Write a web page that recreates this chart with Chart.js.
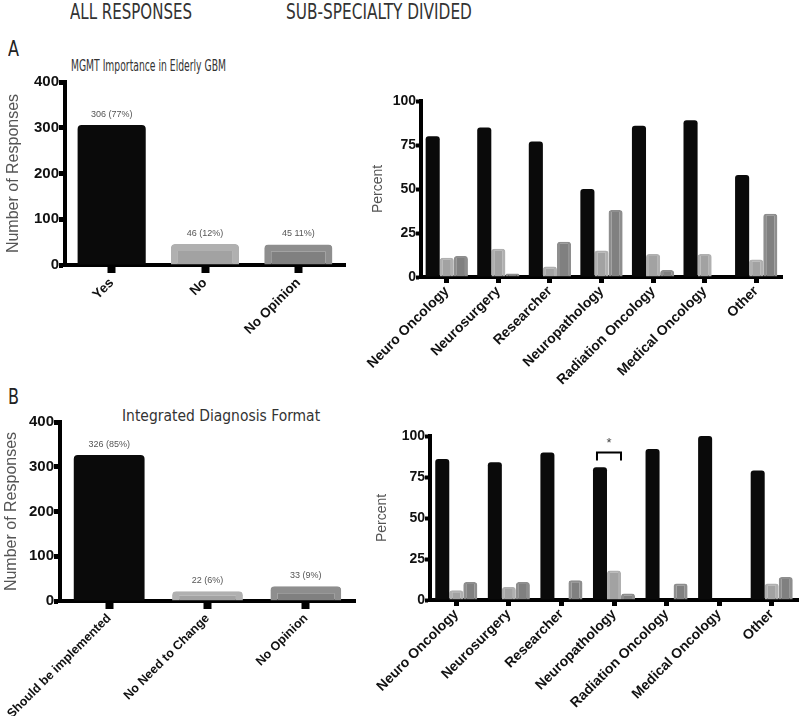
<!DOCTYPE html>
<html lang="en">
<head>
    <meta charset="UTF-8">
    <title>MGMT / Integrated Diagnosis survey</title>
    <script src="https://cdn.jsdelivr.net/npm/chart.js"></script>
    <style>
        body { margin: 0; background: #fff; }
        .page { position: relative; width: 800px; height: 716px; overflow: hidden; }
        .page canvas { position: absolute; }
        .txt { position: absolute; white-space: nowrap; color: #333; line-height: 1;
               font-family: "DejaVu Sans Condensed", "DejaVu Sans", sans-serif;
               transform-origin: 0 0; }
        .head { font-size: 21px; top: 2px; }
        .panel { font-size: 21px; left: 8px; color: #222; }
    </style>
</head>
<body>
<div class="page">
    <div class="txt head" data-w="122" style="left:70px;">ALL RESPONSES</div>
    <div class="txt head" data-w="186" style="left:286px;">SUB-SPECIALTY DIVIDED</div>
    <div class="txt panel" data-w="11" style="top:39px;">A</div>
    <div class="txt panel" data-w="11" style="top:387px;">B</div>
    <div class="txt" data-w="155" style="left:71px; top:59px; font-size:15px;">MGMT Importance in Elderly GBM</div>
    <div class="txt" data-w="198" style="left:122px; top:409px; font-size:15px;">Integrated Diagnosis Format</div>

    <canvas id="allA" width="360" height="320" style="left:0; top:60px;"></canvas>
    <canvas id="subA" width="440" height="310" style="left:360px; top:80px;"></canvas>
    <canvas id="allB" width="370" height="336" style="left:0; top:380px;"></canvas>
    <canvas id="subB" width="430" height="296" style="left:370px; top:420px;"></canvas>
</div>

<script>
    // ---- data ----
    const answersA = ['Yes', 'No', 'No Opinion'];
    const countsA = [306, 46, 45];
    const countLabelsA = ['306 (77%)', '46 (12%)', '45 11%)'];

    const answersB = ['Should be implemented', 'No Need to Change', 'No Opinion'];
    const countsB = [326, 22, 33];
    const countLabelsB = ['326 (85%)', '22 (6%)', '33 (9%)'];

    const specialties = ['Neuro Oncology', 'Neurosurgery', 'Researcher', 'Neuropathology',
                         'Radiation Oncology', 'Medical Oncology', 'Other'];

    // percent per sub-specialty, panel A
    const pctYesA       = [80, 85, 77, 50, 86, 89, 58];
    const pctNoA        = [11, 16, 6, 15, 13, 13, 10];
    const pctNoOpinionA = [12, 2, 20, 38, 4, 0, 36];

    // percent per sub-specialty, panel B
    const pctImplB      = [86, 84, 90, 81, 92, 100, 79];
    const pctNoChangeB  = [6, 8, 0, 18, 0, 0, 10];
    const pctNoOpinionB = [11, 11, 12, 4, 10, 0, 14];

    const countTicks = [0, 100, 200, 300, 400];
    const pctTicks = [0, 25, 50, 75, 100];

    // squeeze the condensed headings to the width they have in the figure
    document.querySelectorAll('.txt[data-w]').forEach(el => {
        const w = el.getBoundingClientRect().width;
        el.style.transform = 'scaleX(' + (Number(el.dataset.w) / w).toFixed(3) + ')';
    });

    // ---- styles ----
    const BLACK = '#0a0a0a';
    const LIGHT_OUT = '#b0b0b0', LIGHT_IN = '#a2a2a2';
    const DARK_OUT = '#8e8e8e', DARK_IN = '#808080';
    const AXIS_FONT = "'Liberation Sans', Arial, sans-serif";

    Chart.defaults.font.family = AXIS_FONT;
    Chart.defaults.animation = false;

    // small text above the bars of the left charts
    const barTextPlugin = {
        id: 'barText',
        afterDatasetsDraw(chart, args, opts) {
            if (!opts.labels) return;
            const ctx = chart.ctx;
            const meta = chart.getDatasetMeta(0);
            ctx.save();
            ctx.font = '9px ' + AXIS_FONT;
            ctx.fillStyle = '#555';
            ctx.textAlign = 'center';
            ctx.textBaseline = 'bottom';
            meta.data.forEach((bar, i) => {
                ctx.fillText(opts.labels[i], bar.x, bar.y - 6);
            });
            ctx.restore();
        }
    };

    // significance bracket over one group
    const bracketPlugin = {
        id: 'bracket',
        afterDatasetsDraw(chart, args, opts) {
            if (opts.index == null) return;
            const ctx = chart.ctx;
            const a = chart.getDatasetMeta(0).data[opts.index];
            const b = chart.getDatasetMeta(1).data[opts.index];
            const y = chart.scales.y;
            const top = y.getPixelForValue(opts.value);
            const foot = y.getPixelForValue(opts.value - 5);
            const x1 = a.x - 3, x2 = b.x + 7;
            ctx.save();
            ctx.strokeStyle = '#000';
            ctx.lineWidth = 2;
            ctx.beginPath();
            ctx.moveTo(x1, foot);
            ctx.lineTo(x1, top);
            ctx.lineTo(x2, top);
            ctx.lineTo(x2, foot);
            ctx.stroke();
            ctx.fillStyle = '#444';
            ctx.font = '13px ' + AXIS_FONT;
            ctx.textAlign = 'center';
            ctx.textBaseline = 'bottom';
            ctx.fillText('*', (x1 + x2) / 2, top - 2);
            ctx.restore();
        }
    };

    function fixedTicks(values) {
        return function (scale) {
            scale.ticks = values.map(v => ({ value: v }));
        };
    }

    // fixed axis box, and no extra room asked for the slanted labels
    function fitX(h) {
        return function (s) {
            s.height = h;
            s.paddingLeft = 0;
            s.paddingRight = 0;
        };
    }

    function allChart(id, labels, counts, texts, o) {
        new Chart(document.getElementById(id), {
            type: 'bar',
            data: {
                labels: labels,
                datasets: [{
                    data: counts,
                    backgroundColor: [BLACK, LIGHT_IN, DARK_IN],
                    borderColor: [BLACK, LIGHT_OUT, DARK_OUT],
                    borderWidth: ctx => ctx.dataIndex === 0 ? 0 : { top: 7, left: 7, right: 7, bottom: 0 },
                    borderRadius: 4,
                    categoryPercentage: 1,
                    barPercentage: o.barPct
                }]
            },
            options: {
                responsive: false,
                maintainAspectRatio: false,
                layout: { padding: o.pad },
                plugins: {
                    legend: { display: false },
                    tooltip: { enabled: false },
                    barText: { labels: texts }
                },
                scales: {
                    x: {
                        afterFit: fitX(o.xHeight),
                        border: { display: true, width: 4, color: '#000' },
                        grid: { drawOnChartArea: false, offset: false, tickLength: 8, tickWidth: 8, tickColor: '#000' },
                        ticks: { minRotation: 45, maxRotation: 45, color: '#111', padding: 2,
                                 font: { size: o.labelSize, weight: 'bold' } }
                    },
                    y: {
                        min: 0, max: 400,
                        afterBuildTicks: fixedTicks(countTicks),
                        afterFit: s => { s.width = o.yWidth; },
                        border: { display: true, width: 4, color: '#000' },
                        grid: { drawOnChartArea: false, tickLength: 6, tickWidth: 5, tickColor: '#000' },
                        ticks: { color: '#111', padding: 0, font: { size: 15, weight: 'bold' } },
                        title: { display: true, text: 'Number of Responses', color: '#555',
                                 font: { size: 16 }, padding: o.titlePad }
                    }
                }
            },
            plugins: [barTextPlugin]
        });
    }

    function subChart(id, s1, s2, s3, o) {
        const common = {
            borderRadius: 3,
            categoryPercentage: o.catPct,
            barPercentage: 1
        };
        new Chart(document.getElementById(id), {
            type: 'bar',
            data: {
                labels: specialties,
                datasets: [
                    Object.assign({ label: o.names[0], data: s1, backgroundColor: BLACK, borderWidth: 0 }, common),
                    Object.assign({ label: o.names[1], data: s2, backgroundColor: LIGHT_IN, borderColor: LIGHT_OUT,
                                    borderWidth: { top: 2, left: 3, right: 3, bottom: 0 } }, common),
                    Object.assign({ label: o.names[2], data: s3, backgroundColor: DARK_IN, borderColor: DARK_OUT,
                                    borderWidth: { top: 2, left: 3, right: 3, bottom: 0 } }, common)
                ]
            },
            options: {
                responsive: false,
                maintainAspectRatio: false,
                layout: { padding: o.pad },
                plugins: {
                    legend: { display: false },
                    tooltip: { enabled: false },
                    bracket: o.bracket || {}
                },
                scales: {
                    x: {
                        afterFit: fitX(o.xHeight),
                        border: { display: true, width: 4, color: '#000' },
                        grid: { drawOnChartArea: false, offset: false, tickLength: 6, tickWidth: 5, tickColor: '#000' },
                        ticks: { minRotation: 45, maxRotation: 45, color: '#111', padding: 0,
                                 font: { size: 14, weight: 'bold' } }
                    },
                    y: {
                        min: 0, max: 100,
                        afterBuildTicks: fixedTicks(pctTicks),
                        afterFit: s => { s.width = o.yWidth; },
                        border: { display: true, width: 4, color: '#000' },
                        grid: { drawOnChartArea: false, tickLength: 5, tickWidth: 4, tickColor: '#000' },
                        ticks: { color: '#111', padding: 0, font: { size: 14, weight: 'bold' } },
                        title: { display: true, text: 'Percent', color: '#555',
                                 font: { size: 14 }, padding: o.titlePad }
                    }
                }
            },
            plugins: [bracketPlugin]
        });
    }

    allChart('allA', answersA, countsA, countLabelsA, {
        pad: { left: 0, top: 22, right: 15, bottom: 0 },
        xHeight: 115, yWidth: 65, barPct: 0.73, labelSize: 13.5, titlePad: { top: 4, bottom: 4 }
    });

    subChart('subA', pctYesA, pctNoA, pctNoOpinionA, {
        names: answersA,
        pad: { left: 0, top: 21, right: 18, bottom: 0 },
        xHeight: 113, yWidth: 61, catPct: 0.82, titlePad: { top: 10, bottom: 0 }
    });

    allChart('allB', answersB, countsB, countLabelsB, {
        pad: { left: 0, top: 42, right: 15, bottom: 0 },
        xHeight: 115, yWidth: 60, barPct: 0.72, labelSize: 12.5, titlePad: { top: 2, bottom: 2 }
    });

    subChart('subB', pctImplB, pctNoChangeB, pctNoOpinionB, {
        names: answersB,
        pad: { left: 0, top: 16, right: 2, bottom: 0 },
        xHeight: 116, yWidth: 60, catPct: 0.8, titlePad: { top: 4, bottom: 0 },
        bracket: { index: 3, value: 90 }
    });
</script>
</body>
</html>
